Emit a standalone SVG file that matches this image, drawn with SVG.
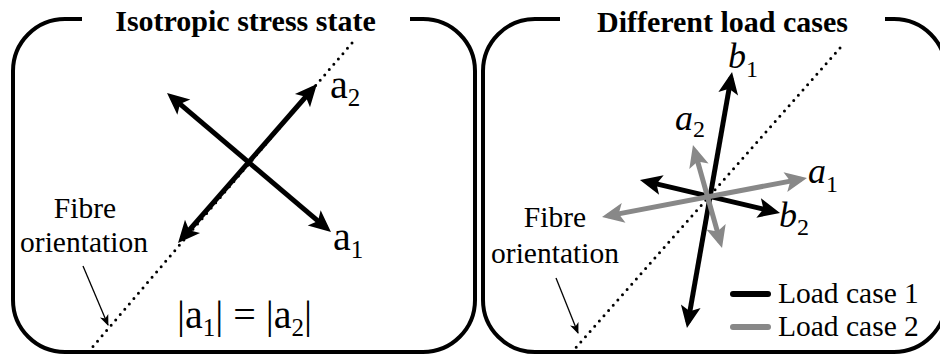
<svg xmlns="http://www.w3.org/2000/svg" width="940" height="356" viewBox="0 0 940 356">
<style>
.frame{fill:none;stroke:#000;stroke-width:4}
.title{font-family:"Liberation Serif","Times New Roman",serif;font-weight:bold;font-size:30px;text-anchor:middle;fill:#000}
.lbl{font-family:"Liberation Serif","Times New Roman",serif;font-size:29.5px;fill:#000}
.mid{text-anchor:middle}
.big{font-family:"Liberation Serif","Times New Roman",serif;font-size:40px;fill:#000}
.it{font-family:"Liberation Serif","Times New Roman",serif;font-size:36px;font-style:italic;fill:#000}
.sub{font-style:normal}
.dots{fill:none;stroke:#000;stroke-width:3;stroke-dasharray:0 7;stroke-linecap:round}
.blk{stroke:#000;stroke-width:5;fill:none;marker-start:url(#hb);marker-end:url(#hb)}
.gry{stroke:#888;stroke-width:5;fill:none;marker-start:url(#hg);marker-end:url(#hg)}
.thin{stroke:#000;stroke-width:1.3;fill:none;marker-end:url(#ht)}
</style>
<defs>
<marker id="hb" markerUnits="userSpaceOnUse" viewBox="-20 -11 28 22" refX="0" refY="0" markerWidth="28" markerHeight="22" orient="auto-start-reverse" overflow="visible">
<path d="M6,0 L-16,-10 L-11,0 L-16,10 Z" fill="#000"/>
</marker>
<marker id="hg" markerUnits="userSpaceOnUse" viewBox="-20 -11 28 22" refX="0" refY="0" markerWidth="28" markerHeight="22" orient="auto-start-reverse" overflow="visible">
<path d="M6,0 L-16,-10 L-11,0 L-16,10 Z" fill="#888"/>
</marker>
<marker id="ht" markerUnits="userSpaceOnUse" viewBox="-12 -6 14 12" refX="0" refY="0" markerWidth="14" markerHeight="12" orient="auto" overflow="visible">
<path d="M1,0 L-10,-4.5 L-7,0 L-10,4.5 Z" fill="#000"/>
</marker>
</defs>

<g id="panel-isotropic">
<path class="frame" d="M410 19 H423 A52 52 0 0 1 475 71 V300 A52 52 0 0 1 423 352 H65 A52 52 0 0 1 13 300 V71 A52 52 0 0 1 65 19 H82"/>
<text class="title" x="245.5" y="31">Isotropic stress state</text>
<line class="dots" x1="352" y1="43" x2="90" y2="350"/>
<text class="lbl mid" x="85" y="218">Fibre</text>
<text class="lbl mid" x="84" y="252">orientation</text>
<text class="big" x="330" y="98">a<tspan font-size="25" dy="8">2</tspan></text>
<text class="big" x="333" y="250">a<tspan font-size="25" dy="8">1</tspan></text>
<text class="big" x="177" y="328">|a<tspan font-size="25" dy="8">1</tspan><tspan dy="-8">| = |a</tspan><tspan font-size="25" dy="8">2</tspan><tspan dy="-8">|</tspan></text>
</g>

<g id="panel-loadcases">
<path class="frame" d="M885 19 H894 A52 52 0 0 1 946 71 V300 A52 52 0 0 1 894 352 H535 A52 52 0 0 1 483 300 V71 A52 52 0 0 1 535 19 H560"/>
<text class="title" x="722.5" y="32">Different load cases</text>
<line class="dots" x1="840" y1="48" x2="573" y2="351"/>
<text class="lbl mid" x="555" y="227">Fibre</text>
<text class="lbl mid" x="555" y="263">orientation</text>
<text class="it" x="728" y="68">b<tspan class="sub" font-size="24" dy="9">1</tspan></text>
<text class="it" x="675" y="130">a<tspan class="sub" font-size="24" dy="7">2</tspan></text>
<text class="it" x="808" y="183">a<tspan class="sub" font-size="24" dy="9">1</tspan></text>
<text class="it" x="779" y="227">b<tspan class="sub" font-size="24" dy="8">2</tspan></text>
</g>

<g id="legend">
<line x1="733" y1="294" x2="768" y2="294" stroke="#000" stroke-width="6" stroke-linecap="round"/>
<line x1="733" y1="327" x2="768" y2="327" stroke="#888" stroke-width="6" stroke-linecap="round"/>
<text class="lbl" x="778" y="303">Load case 1</text>
<text class="lbl" x="778" y="336">Load case 2</text>
</g>

<g id="connectors">
<line class="blk" x1="182" y1="238.5" x2="313" y2="88.5"/>
<line class="blk" x1="171.6" y1="96.9" x2="326.4" y2="228.1"/>
<line class="thin" x1="83" y1="266" x2="108" y2="325"/>
<line class="blk" x1="688" y1="322.1" x2="731" y2="77.9"/>
<line class="blk" x1="645.8" y1="181.4" x2="774.2" y2="211.6"/>
<line class="gry" x1="694.6" y1="150.8" x2="720.4" y2="242.2"/>
<line class="gry" x1="607.9" y1="215.9" x2="801.1" y2="179.1"/>
<line class="thin" x1="556" y1="278" x2="578" y2="333"/>
</g>
</svg>
